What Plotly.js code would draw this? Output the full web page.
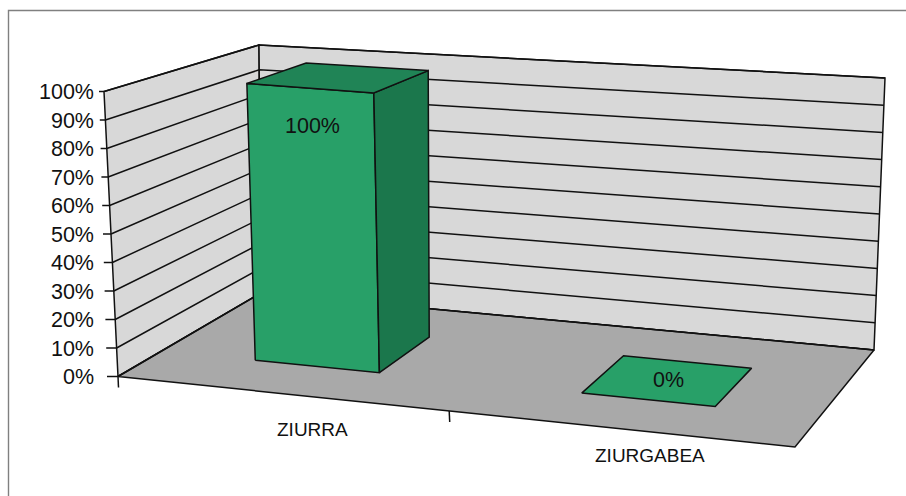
<!DOCTYPE html>
<html><head><meta charset="utf-8">
<script src="https://cdn.plot.ly/plotly-3.0.1.min.js"></script>
<style>html,body{margin:0;padding:0;background:#fff;overflow:hidden}#c{width:906px;height:496px}</style>
</head><body><div id="c"></div>
<script>
// DATA
var categories = ['ZIURRA', 'ZIURGABEA'];
var values = [100, 0];
var valueLabels = ['100%', '0%'];
var tickValues = [0, 10, 20, 30, 40, 50, 60, 70, 80, 90, 100];
var tickLabels = ['0%', '10%', '20%', '30%', '40%', '50%', '60%', '70%', '80%', '90%', '100%'];

// SCENE: projection of the 3D box (u across categories, v depth, h value) onto the page
var W = 906, H = 496;
var floorCorners = [[118, 376.5], [795, 447], [874, 350], [261, 293]];
var ceilCorners = [[104, 91.5], [796, 150], [885, 78], [259, 45]];
function homography(p) {
  var dx1 = p[1][0] - p[2][0], dx2 = p[3][0] - p[2][0], sx = p[0][0] - p[1][0] + p[2][0] - p[3][0];
  var dy1 = p[1][1] - p[2][1], dy2 = p[3][1] - p[2][1], sy = p[0][1] - p[1][1] + p[2][1] - p[3][1];
  var den = dx1 * dy2 - dx2 * dy1;
  var g = (sx * dy2 - dx2 * sy) / den, h = (dx1 * sy - sx * dy1) / den;
  var a = p[1][0] - p[0][0] + g * p[1][0], b = p[3][0] - p[0][0] + h * p[3][0];
  var d = p[1][1] - p[0][1] + g * p[1][1], e = p[3][1] - p[0][1] + h * p[3][1];
  return function (u, v) {
    var w = g * u + h * v + 1;
    return [(a * u + b * v + p[0][0]) / w, (d * u + e * v + p[0][1]) / w];
  };
}
var floorMap = homography(floorCorners);
// vertical lift of a floor point: blended from the lifts measured at the four corners
function lift(u, v, k) {
  var c = [0, 1, 2, 3].map(function (i) { return ceilCorners[i][k] - floorCorners[i][k]; });
  return (1 - u) * (1 - v) * c[0] + u * (1 - v) * c[1] + u * v * c[2] + (1 - u) * v * c[3];
}
// page pixel row -> value on the vertical axis
var PX0 = 376.5, PX_PER_UNIT = 2.85;
function yOf(py) { return (PX0 - py) / PX_PER_UNIT; }
function proj(u, v, val) {
  var a = floorMap(u, v), t = val / 100;
  return [a[0] + lift(u, v, 0) * t, yOf(a[1] + lift(u, v, 1) * t)];
}
var INK = '#111111', LW = 1.5;
var traces = [];
function poly(pts, fill) {
  var xs = pts.map(function (p) { return p[0]; }), ys = pts.map(function (p) { return p[1]; });
  xs.push(xs[0]); ys.push(ys[0]);
  traces.push({ type: 'scatter', mode: 'lines', x: xs, y: ys, fill: 'toself', fillcolor: fill,
    line: { color: INK, width: LW }, hoverinfo: 'skip', showlegend: false });
}
function path(pts, color, width) {
  traces.push({ type: 'scatter', mode: 'lines', x: pts.map(function (p) { return p[0]; }), y: pts.map(function (p) { return p[1]; }),
    line: { color: color || INK, width: width || LW }, hoverinfo: 'skip', showlegend: false });
}
// chart frame
path([[8.5, yOf(H + 5)], [8.5, yOf(10.5)], [W + 5, yOf(10.5)]], '#808080', 1.4);
// walls + floor
poly([proj(0, 0, 0), proj(0, 1, 0), proj(0, 1, 100), proj(0, 0, 100)], '#d8d8d8');
poly([proj(0, 1, 0), proj(1, 1, 0), proj(1, 1, 100), proj(0, 1, 100)], '#d8d8d8');
poly([proj(0, 0, 0), proj(1, 0, 0), proj(1, 1, 0), proj(0, 1, 0)], '#a9a9a9');
// gridlines and tick marks
tickValues.forEach(function (t) {
  path([proj(0, 0, t), proj(0, 1, t), proj(1, 1, t)]);
  var f = proj(0, 0, t);
  path([[99 + 8 * (1 - t / 100), t], [f[0], t]]);
});
// category tick marks
var catTicksU = [0, 0.508];
catTicksU.forEach(function (u) {
  var p = proj(u, 0, 0);
  path([p, [p[0] + 0.5, p[1] - 11 / PX_PER_UNIT]]);
});
// bars
var barCenters = [0.249, 0.753], barHalfWidth = 0.098, vFront = 0.285, vBack = 0.69;
var ann = [];
var catDx = [35, 32], catDy = [36, 27];
var labelV = [vFront, 0.49], labelFrac = [0.865, 0], labelDx = [2, 0];
categories.forEach(function (c, i) {
  var uc = barCenters[i], u0 = uc - barHalfWidth, u1 = uc + barHalfWidth, val = values[i];
  if (val > 0) {
    poly([proj(u0, vFront, 0), proj(u1, vFront, 0), proj(u1, vFront, val), proj(u0, vFront, val)], '#28a068');
    poly([proj(u1, vFront, 0), proj(u1, vBack, 0), proj(u1, vBack, val), proj(u1, vFront, val)], '#1b774c');
    poly([proj(u0, vFront, val), proj(u1, vFront, val), proj(u1, vBack, val), proj(u0, vBack, val)], '#208456');
  } else {
    poly([proj(u0, vFront, val), proj(u1, vFront, val), proj(u1, vBack, val), proj(u0, vBack, val)], '#28a068');
  }
  var lp = proj(uc, labelV[i], val * labelFrac[i]);
  ann.push({ x: lp[0] + labelDx[i], y: lp[1], text: valueLabels[i], showarrow: false, xanchor: 'center', yanchor: 'middle',
    font: { family: 'Liberation Sans', size: 21.5, color: '#111' } });
  var cp = proj(uc, 0, 0);
  ann.push({ x: cp[0] + catDx[i], y: cp[1] - catDy[i] / PX_PER_UNIT, text: c, showarrow: false, xanchor: 'center', yanchor: 'middle',
    font: { family: 'Liberation Sans', size: 19, color: '#111' } });
});

var layout = {
  width: W, height: H, margin: { l: 0, r: 0, t: 0, b: 0 }, paper_bgcolor: '#fff', plot_bgcolor: '#fff', showlegend: false,
  xaxis: { range: [0, W], visible: false, fixedrange: true },
  yaxis: { range: [yOf(H), yOf(0)], anchor: 'free', position: 94 / W, side: 'left', tickmode: 'array', tickvals: tickValues, ticktext: tickLabels,
    showgrid: false, zeroline: false, showline: false, ticks: '', ticklen: 0, fixedrange: true,
    tickfont: { family: 'Liberation Sans', size: 21.5, color: '#111' } },
  annotations: ann
};
Plotly.newPlot('c', traces, layout, { displayModeBar: false, staticPlot: true });
</script></body></html>
